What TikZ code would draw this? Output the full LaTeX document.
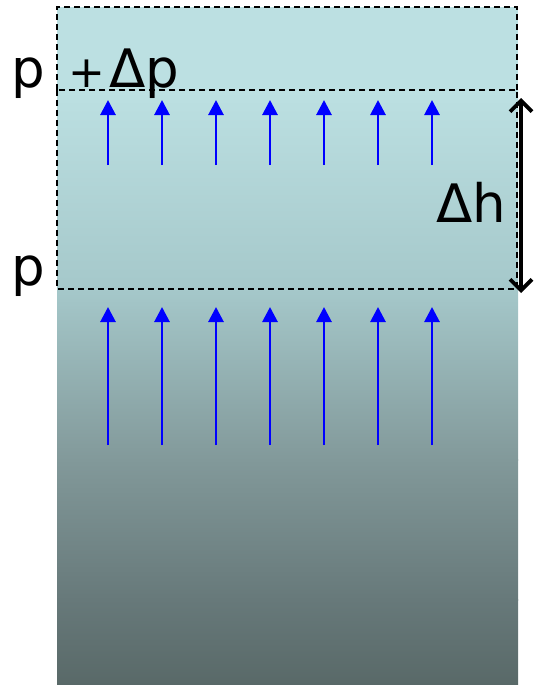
\documentclass[tikz,border=0pt]{standalone}
\usepackage{fontspec}
\setmainfont{DejaVu Sans}
\definecolor{agua}{RGB}{188,224,226}
\definecolor{aguam}{RGB}{165,200,202}
\definecolor{gris}{RGB}{130,153,154}
\definecolor{grisos}{RGB}{103,121,122}
\definecolor{pizarra}{RGB}{89,105,104}
\usetikzlibrary{arrows.meta,positioning}

\begin{document}
\begin{tikzpicture}[
        x=1pt,y=-1pt,
        caja/.style={draw=black,line width=1.4pt,dash pattern=on 6pt off 4pt},
        etiq/.style={font=\fontsize{53}{60}\selectfont,inner sep=0pt,anchor=base},
        flecha/.style={-{Triangle[length=15pt,width=15pt]},blue,line width=2.8pt}]
        \useasboundingbox (0,0) rectangle (536,685);
        % fondo
        \fill[agua] (57,7) rectangle (518,91);
        \shade[top color=agua,bottom color=aguam] (57,90) rectangle (518,290);
        \shade[top color=aguam,bottom color=gris] (57,289) rectangle (518,460);
        \shade[top color=gris,bottom color=grisos] (57,459) rectangle (518,600);
        \shade[top color=grisos,bottom color=pizarra] (57,599) rectangle (518,685);
        % capas
        \draw[caja] (57,90) -- (57,7) -- (517,7) -- (517,90);
        \draw[caja] (57,90) rectangle (517,289);
        \node[etiq] (parr) at (28,88) {p};
        \node[etiq,anchor=base west] (dp) at (68,88)
          {{\fontsize{44}{50}\selectfont+}\kern4pt Δp};
        \node[etiq] (pab) at (28,285) {p};
        \node[etiq,anchor=base west] (dh) at (436,222) {Δh};
        \coordinate (hsup) at (521,98);
        \coordinate (hinf) at (521,293);
        \draw[{Straight Barb[length=11pt,width=22pt]}-{Straight Barb[length=11pt,width=22pt]},
              line width=3.8pt] (hsup) -- (hinf);
        \foreach \i/\x in {1/108,2/162,3/216,4/270,5/324,6/378,7/432}{
          \coordinate (c\i) at (\x,165);
          \coordinate (s\i) at (\x,100);
          \coordinate (l\i) at (\x,445);
          \coordinate (t\i) at (\x,307);
          \draw[flecha] (c\i) -- (s\i);
          \draw[flecha] (l\i) -- (t\i);
        }
      \end{tikzpicture}
\end{document}
